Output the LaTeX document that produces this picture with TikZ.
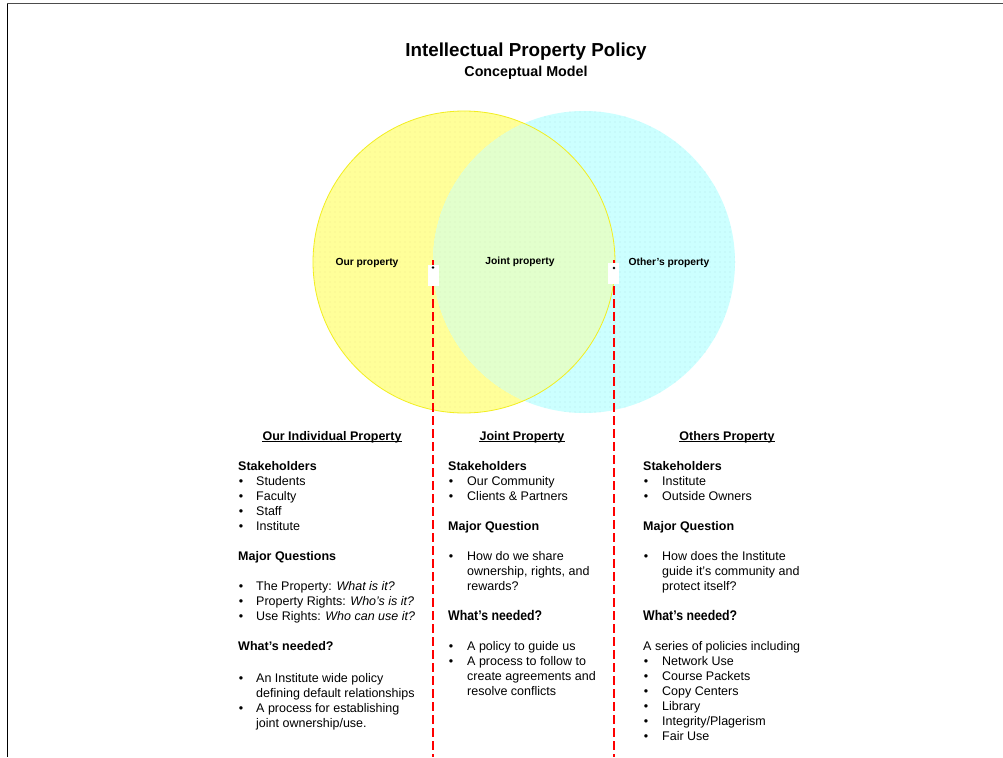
\documentclass[tikz,border=0pt]{standalone}
\usepackage{fontspec}
\setmainfont{Liberation Sans}
\usetikzlibrary{patterns.meta}
\definecolor{ylw}{HTML}{FFFF99}
\definecolor{ylwedge}{HTML}{F2EE20}
\definecolor{cyn}{HTML}{CCFFFF}
\definecolor{ovl}{HTML}{E2FFCC}
\definecolor{ydot}{HTML}{E3CC80}
\definecolor{cdot}{HTML}{8CB8CC}
\definecolor{odot}{HTML}{C4D8A8}
\definecolor{dashred}{HTML}{FF0000}
\begin{document}
\begin{tikzpicture}[x=1pt,y=-1pt,
 txt/.style={anchor=base west, inner sep=0pt, font=\fontsize{12.5}{15}\selectfont},
 hd/.style={txt, font=\fontsize{12.5}{15}\selectfont\bfseries},
 hdbig/.style={txt, font=\fontsize{14}{16}\selectfont\bfseries},
 ctr/.style={anchor=base, inner sep=0pt},
 bul/.style={anchor=base, inner sep=0pt, font=\fontsize{12.5}{15}\selectfont},
 lbl/.style={anchor=base, inner sep=0pt, font=\fontsize{10.3}{12}\selectfont\bfseries},
 venn/.style={circle, minimum size=302pt, inner sep=0pt},
 divider/.style={draw=dashred, line width=1.6pt, dash pattern=on 9pt off 4pt},
 tab/.style={fill=white, minimum width=11pt, minimum height=21pt, inner sep=0pt},
 pin/.style={circle, fill=black, minimum size=2.6pt, inner sep=0pt},
 uline/.style={line width=0.8pt},
 dotpat/.style={pattern={Dots[distance=5pt,radius=0.45pt]}, pattern color=#1}
]
\useasboundingbox (0,0) rectangle (1003,757);
\fill[white] (0,0) rectangle (1003,757);
% frame
\draw[line width=1pt, draw=black!70] (7,4) -- (1003,4);
\draw[line width=1pt] (7,4) -- (7,757);

% Venn circles
\node[venn, fill=ylw] (yc) at (464,262) {};
\path[dotpat=ydot] (yc.center) circle (151pt);
\node[venn, fill=cyn] (cc) at (584,262) {};
\path[dotpat=cdot] (cc.center) circle (151pt);
\begin{scope}
  \clip (yc.center) circle (151pt);
  \fill[ovl] (cc.center) circle (151pt);
  \path[dotpat=odot] (cc.center) circle (151pt);
\end{scope}
\draw[ylwedge, line width=0.8pt] (yc.center) circle (151pt);

% dividers
\coordinate (ltop) at (433,260);
\coordinate (lbot) at (433,757);
\coordinate (rtop) at (614,260);
\coordinate (rbot) at (614,757);
\draw[divider] (ltop) -- (lbot);
\draw[divider] (rtop) -- (rbot);
\node[tab] (ltab) at (433,275) {};
\node[pin] (lpin) at (433,267.5) {};
\node[tab] (rtab) at (613.5,273.5) {};
\node[pin] (rpin) at (614,268) {};

% circle labels
\node[lbl] (l1) at (367,265.5) {Our property};
\node[lbl] (l2) at (520,264.5) {Joint property};
\node[lbl] (l3) at (669,265.5) {Other's property};

% title
\node[ctr, font=\fontsize{18.8}{22}\selectfont\bfseries] (title) at (526,57) {Intellectual Property Policy};
\node[ctr, font=\fontsize{14.3}{17}\selectfont\bfseries] (sub) at (526,77) {Conceptual Model};

% ---------- column 1
\node[hd, anchor=base] (c1h) at (332,440) {Our Individual Property};
\draw[uline] ([yshift=-1.6pt]c1h.base west) -- ([yshift=-1.6pt]c1h.base east);
\node[hd] (c1s) at (238,470) {Stakeholders};
\foreach \t [count=\i] in {Students,Faculty,Staff,Institute}{
  \node[bul] (c1b\i) at (241,470+15*\i) {•};
  \node[txt] (c1t\i) at (256,470+15*\i) {\t};
}
\node[hd] (c1m) at (238,560) {Major Questions};
\node[bul] (c1q1b) at (241,590) {•};
\node[txt] (c1q1) at (256,590) {The Property: \textit{What is it?}};
\node[bul] (c1q2b) at (241,605) {•};
\node[txt] (c1q2) at (256,605) {Property Rights: \textit{Who's is it?}};
\node[bul] (c1q3b) at (241,620) {•};
\node[txt] (c1q3) at (256,620) {Use Rights: \textit{Who can use it?}};
\node[hd] (c1w) at (238,650) {What's needed?};
\node[bul] (c1n1b) at (241,682) {•};
\node[txt] (c1n1a) at (256,682) {An Institute wide policy};
\node[txt] (c1n1c) at (256,697) {defining default relationships};
\node[bul] (c1n2b) at (241,712) {•};
\node[txt] (c1n2a) at (256,712) {A process for establishing};
\node[txt] (c1n2c) at (256,727) {joint ownership/use.};

% ---------- column 2
\node[hd, anchor=base] (c2h) at (522,440) {Joint Property};
\draw[uline] ([yshift=-1.6pt]c2h.base west) -- ([yshift=-1.6pt]c2h.base east);
\node[hd] (c2s) at (448,470) {Stakeholders};
\node[bul] (c2b1) at (451,485) {•};
\node[txt] (c2t1) at (467,485) {Our Community};
\node[bul] (c2b2) at (451,500) {•};
\node[txt] (c2t2) at (467,500) {Clients \& Partners};
\node[hd] (c2m) at (448,530) {Major Question};
\node[bul] (c2qb) at (451,560) {•};
\node[txt] (c2qa) at (467,560) {How do we share};
\node[txt] (c2qc) at (467,575) {ownership, rights, and};
\node[txt] (c2qd) at (467,590) {rewards?};
\node[hdbig] (c2w) at (448,620) {\scalebox{0.88}[1]{What's needed?}};
\node[bul] (c2n1b) at (451,650) {•};
\node[txt] (c2n1) at (467,650) {A policy to guide us};
\node[bul] (c2n2b) at (451,665) {•};
\node[txt] (c2n2a) at (467,665) {A process to follow to};
\node[txt] (c2n2c) at (467,680) {create agreements and};
\node[txt] (c2n2d) at (467,695) {resolve conflicts};

% ---------- column 3
\node[hd, anchor=base] (c3h) at (727,440) {Others Property};
\draw[uline] ([yshift=-1.6pt]c3h.base west) -- ([yshift=-1.6pt]c3h.base east);
\node[hd] (c3s) at (643,470) {Stakeholders};
\node[bul] (c3b1) at (646,485) {•};
\node[txt] (c3t1) at (662,485) {Institute};
\node[bul] (c3b2) at (646,500) {•};
\node[txt] (c3t2) at (662,500) {Outside Owners};
\node[hd] (c3m) at (643,530) {Major Question};
\node[bul] (c3qb) at (646,560) {•};
\node[txt] (c3qa) at (662,560) {How does the Institute};
\node[txt] (c3qc) at (662,575) {guide it's community and};
\node[txt] (c3qd) at (662,590) {protect itself?};
\node[hdbig] (c3w) at (643,620) {\scalebox{0.88}[1]{What's needed?}};
\node[txt] (c3ser) at (643,650) {A series of policies including};
\foreach \t [count=\i] in {Network Use,Course Packets,Copy Centers,Library,Integrity/Plagerism,Fair Use}{
  \node[bul] (c3p\i) at (646,650+15*\i) {•};
  \node[txt] (c3pt\i) at (662,650+15*\i) {\t};
}
\end{tikzpicture}
\end{document}
